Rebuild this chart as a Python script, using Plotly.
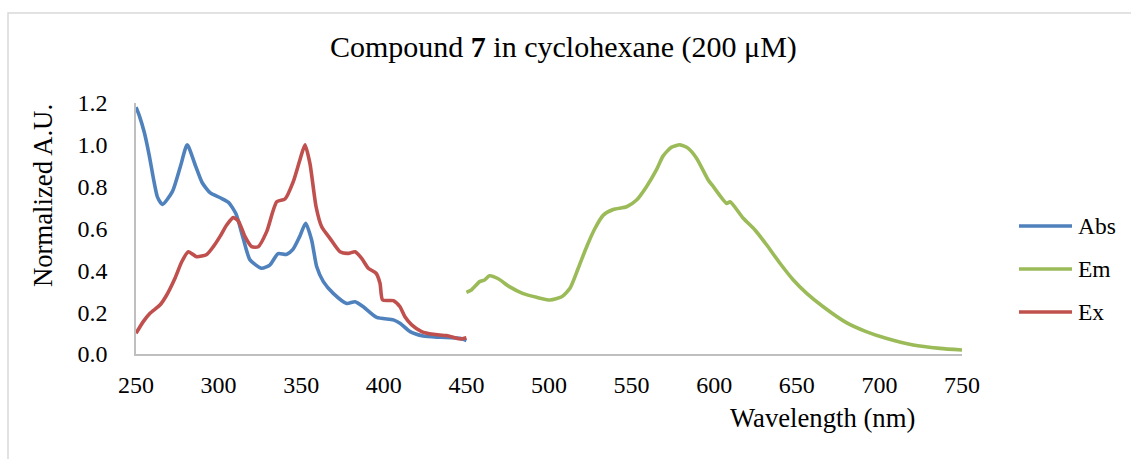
import plotly.graph_objects as go

# ---- data ----
abs_wl = [250, 252, 255, 258, 261, 263, 266, 272, 277, 281, 286, 290, 295, 301, 306, 310.5, 315, 319, 326, 331, 336, 341, 345, 349, 352.7,
          356.3, 359.4, 363.4, 369.4, 377.5, 382.6, 387.6, 395.7, 405.8, 409.8, 415.9, 423.9, 434, 446, 450]
abs_val = [1.18, 1.14, 1.06, 0.95, 0.82, 0.75, 0.715, 0.776, 0.90, 1.00, 0.90, 0.82, 0.77, 0.747, 0.725, 0.67, 0.55, 0.45, 0.41, 0.425, 0.48, 0.476, 0.50, 0.56, 0.625,
           0.545, 0.417, 0.346, 0.29, 0.242, 0.25, 0.226, 0.175, 0.163, 0.147, 0.107, 0.086, 0.08, 0.075, 0.064]

em_wl = [450, 453, 458, 461, 464, 469, 476, 484, 492.5, 500.6, 507.7, 512.7, 517.7, 522.8, 527.8, 532.9, 538.9, 547, 553, 559, 565,
         569, 574, 579.3, 584.3, 589.4, 596.4, 599.5, 607.6, 609.6, 617.6, 624.7, 631.8, 639.8, 647.9, 656, 666, 680, 692, 704, 720.5, 736.7, 750]
em_val = [0.295, 0.306, 0.346, 0.354, 0.374, 0.361, 0.322, 0.29, 0.271, 0.258, 0.274, 0.314, 0.41, 0.513, 0.6, 0.664, 0.691, 0.704, 0.736, 0.8, 0.88,
          0.946, 0.988, 1.0, 0.983, 0.935, 0.832, 0.8, 0.72, 0.728, 0.649, 0.593, 0.521, 0.434, 0.354, 0.29, 0.226, 0.15, 0.107, 0.075, 0.043, 0.027, 0.019]

ex_wl = [250, 254.4, 258.5, 264.5, 268.6, 273.6, 277.7, 281.7, 286.7, 292.8, 296.8, 300.8, 304.9, 308.9, 311.9, 316, 320, 324, 329.1, 335.2,
         340.2, 345.2, 349.3, 352.3, 355.3, 359, 362.4, 367.4, 373.5, 378.5, 382.6, 386.6, 390.6, 395.3, 397.7, 399.3, 405.8, 409.8, 412.8,
         416.9, 422.9, 430, 438, 446, 450]
ex_val = [0.099, 0.155, 0.195, 0.234, 0.282, 0.362, 0.441, 0.489, 0.465, 0.476, 0.513, 0.561, 0.617, 0.652, 0.636, 0.561, 0.513, 0.513, 0.585, 0.728,
          0.741, 0.824, 0.93, 1.0, 0.91, 0.704, 0.608, 0.553, 0.489, 0.481, 0.489, 0.457, 0.41, 0.386, 0.338, 0.258, 0.255, 0.226, 0.178,
          0.139, 0.107, 0.094, 0.088, 0.072, 0.078]

series_names = ["Abs", "Em", "Ex"]
colors = ["#4F81BD", "#9BBB59", "#C0504D"]
x_ticks = [250, 300, 350, 400, 450, 500, 550, 600, 650, 700, 750]
y_ticks = [0.0, 0.2, 0.4, 0.6, 0.8, 1.0, 1.2]

FONT = "Liberation Serif, Times New Roman, serif"
TICK_SIZE = 24
AXTITLE_SIZE = 26.7
TITLE_SIZE = 30
LEGEND_SIZE = 23.5

fig = go.Figure()
for name, xs, ys, c in zip(series_names, [abs_wl, em_wl, ex_wl], [abs_val, em_val, ex_val], colors):
    fig.add_trace(go.Scatter(x=xs, y=ys, mode="lines", name=name,
                             line=dict(color=c, width=3.6, shape="spline", smoothing=0.6),
                             showlegend=False))

W, H = 1131, 459
L, R, T, B = 136, 962, 103, 354
pw, ph = R - L, B - T

def px2paper_x(px):
    return (px - L) / pw

def px2paper_y(py):
    return (B - py) / ph

fig.update_layout(
    width=W, height=H,
    margin=dict(l=L, r=W - R, t=T, b=H - B),
    paper_bgcolor="white", plot_bgcolor="white",
    font=dict(family=FONT, color="#000000", size=TICK_SIZE),
    xaxis=dict(range=[250, 750], tickvals=x_ticks, ticktext=[str(v) for v in x_ticks],
               showgrid=False, zeroline=False, showline=True, linecolor="#BFBFBF", linewidth=1.5,
               ticks="", ticklabelstandoff=8, tickfont=dict(size=TICK_SIZE, family=FONT, color="#000")),
    yaxis=dict(range=[0, 1.2], tickvals=y_ticks, ticktext=[f"{v:.1f}" for v in y_ticks],
               showgrid=False, zeroline=False, showline=True, linecolor="#BFBFBF", linewidth=1.5,
               ticks="", ticklabelstandoff=22, tickfont=dict(size=TICK_SIZE, family=FONT, color="#000")),
)

annotations = [
    dict(text="Compound <b>7</b> in cyclohexane (200 μM)", x=px2paper_x(563), y=px2paper_y(47),
         xref="paper", yref="paper", xanchor="center", yanchor="middle", showarrow=False,
         font=dict(size=TITLE_SIZE, family=FONT, color="#000")),
    dict(text="Normalized A.U.", x=px2paper_x(43), y=px2paper_y(196), textangle=-90,
         xref="paper", yref="paper", xanchor="center", yanchor="middle", showarrow=False,
         font=dict(size=AXTITLE_SIZE, family=FONT, color="#000")),
    dict(text="Wavelength (nm)", x=px2paper_x(822), y=px2paper_y(418),
         xref="paper", yref="paper", xanchor="center", yanchor="middle", showarrow=False,
         font=dict(size=AXTITLE_SIZE, family=FONT, color="#000")),
]

shapes = [
    dict(type="rect", xref="paper", yref="paper", x0=px2paper_x(8), y0=px2paper_y(13),
         x1=px2paper_x(1200), y1=px2paper_y(520), line=dict(color="#D9D9D9", width=1.5),
         fillcolor="rgba(0,0,0,0)", layer="below"),
]

legend_y = [226, 269, 312]
for name, c, ly in zip(series_names, colors, legend_y):
    shapes.append(dict(type="line", xref="paper", yref="paper",
                       x0=px2paper_x(1019), x1=px2paper_x(1072), y0=px2paper_y(ly), y1=px2paper_y(ly),
                       line=dict(color=c, width=3.6)))
    annotations.append(dict(text=name, x=px2paper_x(1076), y=px2paper_y(ly), xref="paper", yref="paper",
                            xanchor="left", yanchor="middle", showarrow=False,
                            font=dict(size=LEGEND_SIZE, family=FONT, color="#000")))

fig.update_layout(annotations=annotations, shapes=shapes)

fig.write_html("out.html")
